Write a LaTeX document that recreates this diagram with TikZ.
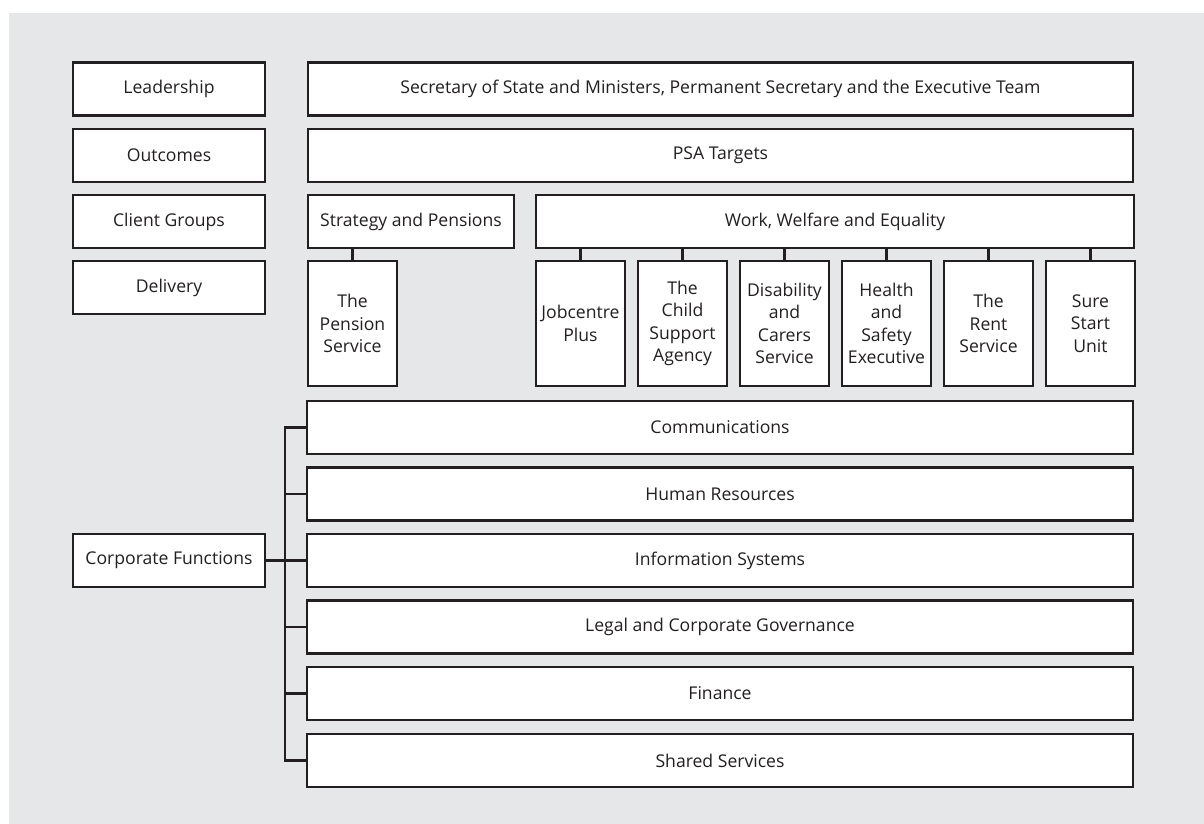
\documentclass[tikz,border=0pt]{standalone}
\usepackage{fontspec}
\setmainfont{Open Sans}
\definecolor{panel}{HTML}{E6E7E8}
\definecolor{ink}{HTML}{231F20}
\tikzset{
  unit/.style={draw=ink, fill=white, line width=2.4pt, inner sep=0pt, align=center,
    text=ink, font=\fontsize{17.6}{22.5}\selectfont, minimum height=53pt},
  lefthead/.style={unit, minimum width=192pt},
  wide/.style={unit, minimum width=825pt},
  office/.style={unit, minimum width=89pt, minimum height=125pt},
  link/.style={draw=ink, line width=2.2pt}
}
\begin{document}
\begin{tikzpicture}[x=1pt, y=-1pt]

      \useasboundingbox (0,0) rectangle (1204,824);
      \fill[panel] (9,13) rectangle (1204,824);

      \node[lefthead] (lead)   at (169,89)    {Leadership};
      \node[lefthead] (outc)   at (169,155.5) {Outcomes};
      \node[lefthead] (client) at (169,221.5) {Client Groups};
      \node[lefthead] (deliv)  at (169,287.5) {Delivery};
      \node[lefthead] (corp)   at (169,560.5) {Corporate Functions};

      \node[wide] (sos) at (720.5,89)    {Secretary of State and Ministers, Permanent Secretary and the Executive Team};
      \node[wide] (psa) at (720.5,155.5) {PSA Targets};

      \node[unit, minimum width=206pt] (strat) at (411,221.5) {Strategy and Pensions};
      \node[unit, minimum width=598pt] (work)  at (835,221.5) {Work, Welfare and Equality};

      \node[office] (pension) at (352.5,323.5) {The\\Pension\\Service};
      \node[office] (jobc)    at (580.5,323.5) {Jobcentre\\Plus};
      \node[office] (csa)     at (682.5,323.5) {The\\Child\\Support\\Agency};
      \node[office] (dcs)     at (784.5,323.5) {Disability\\and\\Carers\\Service};
      \node[office] (hse)     at (886.5,323.5) {Health\\and\\Safety\\Executive};
      \node[office] (rent)    at (988.5,323.5) {The\\Rent\\Service};
      \node[office] (sure)    at (1090.5,323.5) {Sure\\Start\\Unit};

      \draw[link] (pension.north) to (pension.north |- strat.south);
      \draw[link] (jobc.north) to (jobc.north |- work.south);
      \draw[link] (csa.north)  to (csa.north |- work.south);
      \draw[link] (dcs.north)  to (dcs.north |- work.south);
      \draw[link] (hse.north)  to (hse.north |- work.south);
      \draw[link] (rent.north) to (rent.north |- work.south);
      \draw[link] (sure.north) to (sure.north |- work.south);

      \node[wide, minimum width=826pt] (comms) at (720,427.5) {Communications};
      \node[wide, minimum width=826pt] (hr)    at (720,494)   {Human Resources};
      \node[wide, minimum width=826pt] (infos) at (720,560.5) {Information Systems};
      \node[wide, minimum width=826pt] (legal) at (720,627)   {Legal and Corporate Governance};
      \node[wide, minimum width=826pt] (fin)   at (720,693.5) {Finance};
      \node[wide, minimum width=826pt] (shared) at (720,760.5) {Shared Services};

      \coordinate (bus) at (285,0);
      \draw[link] (comms.west) -| (bus |- comms.west) |- (shared.west);
      \draw[link] (hr.west) to (bus |- hr.west);
      \draw[link] (legal.west) to (bus |- legal.west);
      \draw[link] (fin.west) to (bus |- fin.west);
      \draw[link] (corp.east) to (infos.west);
      %\draw[link] (corp.east) to (bus |- corp.east);
    \end{tikzpicture}
\end{document}
